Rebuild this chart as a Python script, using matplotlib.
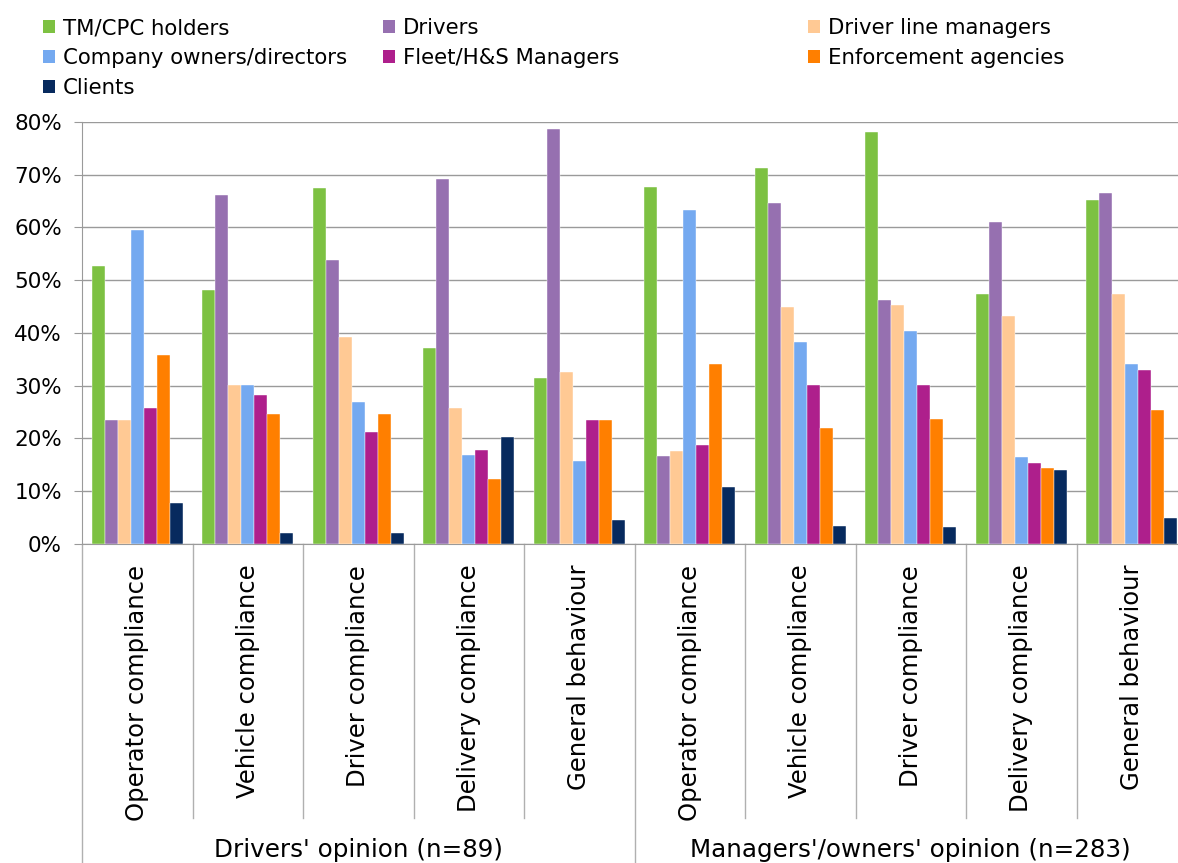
import matplotlib
matplotlib.use("Agg")
import matplotlib.pyplot as plt
from matplotlib.patches import Patch
from matplotlib.ticker import FuncFormatter, MultipleLocator
import matplotlib.transforms as mtransforms
import numpy as np

categories = ["Operator compliance", "Vehicle compliance", "Driver compliance",
              "Delivery compliance", "General behaviour"] * 2
groups = ["Drivers' opinion (n=89)", "Managers'/owners' opinion (n=283)"]

series_names = ["TM/CPC holders", "Drivers", "Driver line managers",
                "Company owners/directors", "Fleet/H&S Managers",
                "Enforcement agencies", "Clients"]
colors = ["#7DC142", "#9670B0", "#FFC994", "#74A9F0", "#AE1F8C", "#FF7F00", "#072A5E"]

tm_cpc    = [52.7, 48.2, 67.4, 37.1, 31.5, 67.7, 71.3, 78.1, 47.3, 65.3]
drivers   = [23.5, 66.2, 53.8, 69.1, 78.7, 16.6, 64.6, 46.3, 61.0, 66.5]
line_mgrs = [23.5, 30.2, 39.3, 25.8, 32.6, 17.6, 44.9, 45.3, 43.2, 47.3]
owners    = [59.6, 30.2, 27.0, 16.8, 15.7, 63.3, 38.2, 40.3, 16.4, 34.2]
fleet_hs  = [25.8, 28.2, 21.3, 17.9, 23.5, 18.8, 30.1, 30.1, 15.3, 33.0]
enforce   = [35.9, 24.6, 24.6, 12.3, 23.5, 34.2, 21.9, 23.7, 14.4, 25.4]
clients   = [7.8, 2.1, 2.1, 20.2, 4.5, 10.9, 3.4, 3.3, 14.1, 4.9]
series = [tm_cpc, drivers, line_mgrs, owners, fleet_hs, enforce, clients]

W, H = 1178, 863
fig = plt.figure(figsize=(W / 100, H / 100), dpi=100)
ax = fig.add_axes([82 / W, 1 - 544 / H, (1187 - 82) / W, (544 - 122) / H])

x = np.arange(len(categories))
bw = 0.1176
for i, (vals, c) in enumerate(zip(series, colors)):
    ax.bar(x + (i - 3) * bw, np.array(vals) / 100.0, width=bw, color=c,
           edgecolor="white", linewidth=0.3, zorder=3)

ax.set_xlim(-0.5, len(categories) - 0.5)
ax.set_ylim(0, 0.8)
ax.yaxis.set_major_locator(MultipleLocator(0.1))
ax.yaxis.set_major_formatter(FuncFormatter(lambda v, p: f"{v*100:.0f}%"))
ax.grid(axis="y", color="#9a9a9a", linewidth=1.0, zorder=0)
gl = ax.get_ygridlines()
if gl:
    gl[-1].set_color("#cfcfcf")
    gl[-1].set_linewidth(1.6)
for s in ["top", "right"]:
    ax.spines[s].set_visible(False)
ax.spines["left"].set_color("#9a9a9a")
ax.spines["bottom"].set_color("#9a9a9a")
ax.tick_params(axis="y", length=6, color="#9a9a9a", labelsize=15.5, pad=8.5)
ax.tick_params(axis="x", length=0, labelsize=17.5, pad=15)
ax.set_xticks(x)
ax.set_xticklabels(categories, rotation=90, va="top", ha="center")

# category separators
ax_h = 544 - 122
trans = mtransforms.blended_transform_factory(ax.transData, ax.transAxes)
for k in range(len(categories) + 1):
    xb = k - 0.5
    outer = (k % 5 == 0)
    y_end = -(H - 544) / ax_h if outer else -(818 - 544) / ax_h
    ax.plot([xb, xb], [0, y_end], transform=trans, color="#b0b0b0",
            linewidth=1.0, clip_on=False)

# group labels
for g, name in enumerate(groups):
    ax.text(g * 5 + 2, -(850 - 544) / ax_h, name, transform=trans,
            ha="center", va="center", fontsize=17.7)

# legend, three columns laid out row-wise
handles = [Patch(facecolor=c, edgecolor="none") for c in colors]
col_x = [43 / W, 383 / W, 808 / W]
cols = [[0, 3, 6], [1, 4], [2, 5]]
for cx, idxs in zip(col_x, cols):
    fig.legend([handles[i] for i in idxs], [series_names[i] for i in idxs],
               loc="upper left", bbox_to_anchor=(cx, 1 - 18 / H), frameon=False,
               fontsize=15.3, handlelength=0.55, handleheight=0.55,
               handletextpad=0.4, labelspacing=0.465, borderpad=0, borderaxespad=0)

fig.savefig("out.png", dpi=100)
